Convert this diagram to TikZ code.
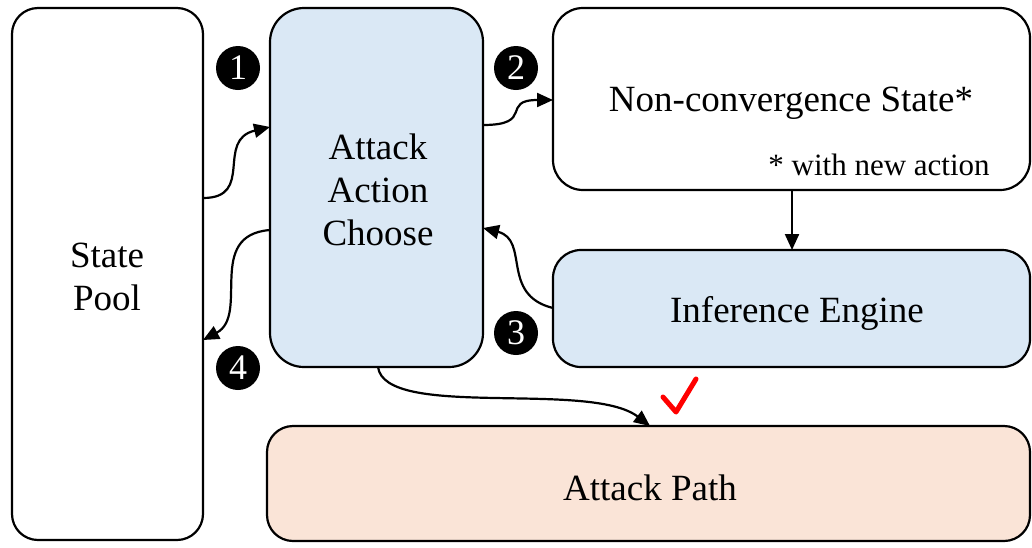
\documentclass[tikz,border=0pt]{standalone}
\usepackage{fontspec}
\setmainfont{Liberation Serif}
\usetikzlibrary{arrows.meta}
\definecolor{blueFill}{HTML}{DAE8F5}
\definecolor{peachFill}{HTML}{FAE4D7}
\begin{document}
\begin{tikzpicture}[x=1pt,y=-1pt,
  box/.style={draw=black,line width=2.2pt,rounded corners=#1},
  box/.default=28pt,
  lbl/.style={font=\fontsize{37}{43}\selectfont,align=center},
  badge/.style={circle,fill=black,inner sep=0pt,minimum size=44pt,
    text=white,font=\fontsize{36}{36}\selectfont},
  conn/.style={line width=2.2pt,-{Triangle[length=16pt,width=14pt]}}]
\useasboundingbox (0,0) rectangle (1032,547);

% boxes
\draw[box=26pt,fill=white] (12,8) rectangle (203,540);
\draw[box=34pt,fill=blueFill] (270,8) rectangle (483,367);
\draw[box=30pt,fill=white] (553,8) rectangle (1030,190);
\draw[box=28pt,fill=blueFill] (553,250) rectangle (1030,367);
\draw[box=26pt,fill=peachFill] (267,426) rectangle (1030,541);

% box labels
\node[lbl] (pool) at (107,277) {State\\Pool};
\node[lbl] (choose) at (378,190) {Attack\\Action\\Choose};
\node[lbl] (nonconv) at (791,103) {Non-convergence State*};
\node[font=\fontsize{31}{36}\selectfont] (note) at (879,165) {* with new action};
\node[lbl] (engine) at (797,313) {Inference Engine};
\node[lbl] (path) at (650,488) {Attack Path};

% anchor points on box edges
\coordinate (p1s) at (203,198);
\coordinate (p1e) at (270,127);
\coordinate (p2s) at (483,125);
\coordinate (p2e) at (553,100);
\coordinate (p3s) at (553,308);
\coordinate (p3e) at (483,228);
\coordinate (p4s) at (270,230);
\coordinate (p4e) at (203,340);
\coordinate (p5s) at (378,367);
\coordinate (p5e) at (650,426);
\coordinate (p6s) at (792,190);
\coordinate (p6e) at (792,250);

% connectors
\draw[conn] (p1s) .. controls (255,198) and (215,140) .. (p1e);
\draw[conn] (p2s) .. controls (535,125) and (500,100) .. (p2e);
\draw[conn] (p3s) .. controls (500,295) and (530,240) .. (p3e);
\draw[conn] (p4s) .. controls (205,235) and (250,315) .. (p4e);
\draw[conn] (p5s) .. controls (385,420) and (590,380) .. (p5e);
\draw[conn] (p6s) -- (p6e);

% step badges
\node[badge] (b1) at (238,68) {1};
\node[badge] (b2) at (516,68) {2};
\node[badge] (b3) at (516,333) {3};
\node[badge] (b4) at (238,368) {4};

% success mark
\coordinate (ok) at (676,412);
\draw[red,line width=5pt,line cap=round,line join=round]
  (663,397) -- (ok) -- (696,379);
\end{tikzpicture}
\end{document}
